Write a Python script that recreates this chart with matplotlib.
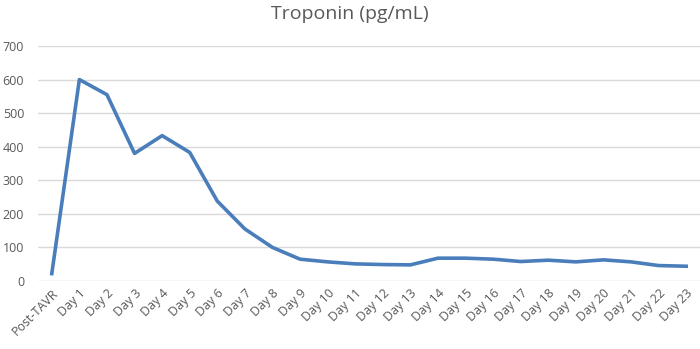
import matplotlib.pyplot as plt

labels = ["Post-TAVR"] + ["Day %d" % i for i in range(1, 24)]
troponin = [22, 600, 555, 380, 433, 383, 238, 155, 100, 65, 57, 51, 49, 48,
            68, 68, 65, 58, 62, 57, 63, 57, 46, 44]
yticks = [0, 100, 200, 300, 400, 500, 600, 700]

plt.rcParams['font.family'] = ['Open Sans', 'DejaVu Sans']

fig = plt.figure(figsize=(7, 3.49), dpi=100)
ax = fig.add_axes([38 / 700, 1 - 281 / 349, 662 / 700, 235 / 349])

ax.plot(range(len(troponin)), troponin, color='#4a7ebb', linewidth=2.6,
        solid_joinstyle='round', zorder=3)

ax.set_xlim(-0.5, len(labels) - 0.5)
ax.set_ylim(0, 700)
ax.set_yticks(yticks)
ax.set_xticks(range(len(labels)))
ax.set_xticklabels(labels, rotation=45, ha='right', rotation_mode='anchor')
ax.tick_params(axis='both', length=0, colors='#595959', labelsize=9)
ax.tick_params(axis='x', pad=4)
ax.tick_params(axis='y', pad=10)
ax.grid(axis='y', color='#d9d9d9', linewidth=1)
ax.set_axisbelow(True)
for s in ax.spines.values():
    s.set_visible(False)

fig.text(0.5, 1 - 14 / 349, "Troponin (pg/mL)", ha='center', va='center',
         fontsize=14, color='#595959')

fig.savefig("out.png", dpi=100)
